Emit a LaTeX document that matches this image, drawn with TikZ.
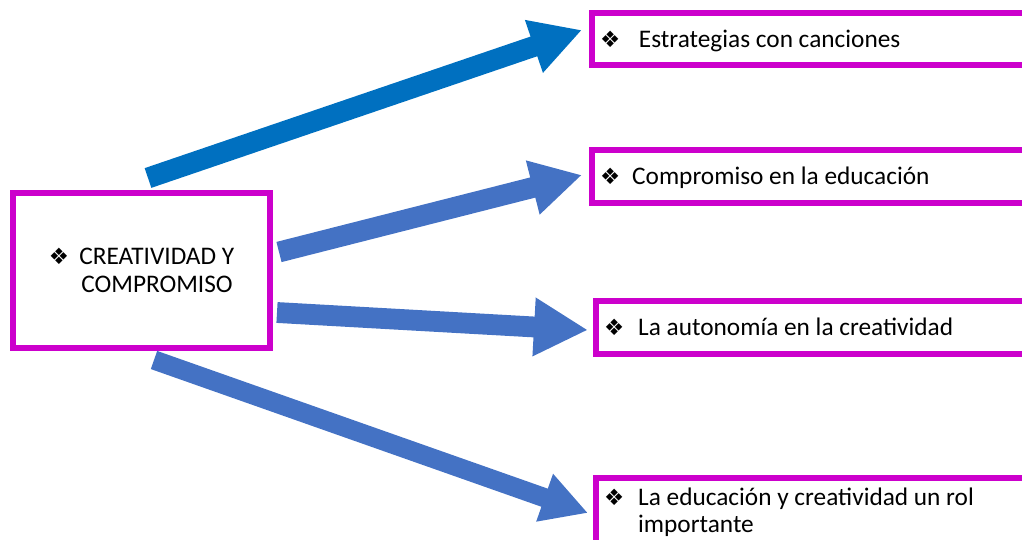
\documentclass[tikz,border=0pt]{standalone}
\usepackage{fontspec}
\setmainfont{Carlito}
\newfontfamily\dingfont{DejaVu Sans}
\usetikzlibrary{arrows.meta}
\definecolor{boxmagenta}{RGB}{204,0,204}
\definecolor{darkblue}{RGB}{0,112,192}
\definecolor{softblue}{RGB}{68,114,196}
\newcommand{\bul}{{\dingfont\fontsize{16}{16}\selectfont ❖}}
\newcommand{\lineleft}[1]{\makebox[11.5cm][l]{#1}}
\tikzset{
  frame/.style={draw=boxmagenta, line width=0.15cm, fill=white,
    inner xsep=0.2cm, font=\fontsize{18}{19}\selectfont},
  topic/.style={frame, minimum height=1.3cm, text height=12pt, text depth=0pt},
  bigarrow/.style={line width=0.52cm, -{Triangle[width=1.3cm,length=1.27cm]}},
}

\begin{document}
\begin{tikzpicture}[x=0.025cm, y=-0.025cm]
    \useasboundingbox (0, 0) rectangle (1022, 540);
    % central box
    \node[frame, align=left, minimum width=6.425cm, minimum height=3.875cm,
      font=\fontsize{18}{20}\selectfont] (main) at (141.5, 270.5)
      {\bul\hspace{0.26cm}CREATIVIDAD Y\\\phantom{\bul}\hspace{0.31cm}COMPROMISO};
    % boxes on the right
    \node[topic, anchor=west] (songs) at (589, 39) {\lineleft{\bul\hspace{0.47cm}Estrategias con canciones}};
    \node[topic, anchor=west] (duty) at (589, 176.5) {\lineleft{\bul\hspace{0.3cm}Compromiso en la educación}};
    \node[topic, anchor=west] (freedom) at (593, 327.5) {\lineleft{\bul\hspace{0.35cm}La autonomía en la creatividad}};
    \node[frame, anchor=north west, align=left, inner ysep=0.24cm, text depth=1.2cm,
      font=\fontsize{18}{19.5}\selectfont] (role) at (593, 475)
      {\lineleft{\bul\hspace{0.35cm}La educación y creatividad un rol}\\
       \lineleft{\phantom{\bul}\hspace{0.35cm}importante}};
    % block arrows
    \coordinate (from1) at (148, 178);
    \coordinate (to1) at (582, 30);
    \coordinate (from2) at (279, 252);
    \coordinate (to2) at (582, 175);
    \coordinate (from3) at (277, 312.5);
    \coordinate (to3) at (588, 330);
    \coordinate (from4) at (154, 360);
    \coordinate (to4) at (588, 513);
    \draw[bigarrow, darkblue] (from1) -- (to1);
    \draw[bigarrow, softblue] (from2) -- (to2);
    \draw[bigarrow, softblue, -{Triangle[width=1.37cm,length=1.35cm]}] (from3) -- (to3);
    \draw[bigarrow, softblue, line width=0.48cm, -{Triangle[width=1.18cm,length=1.15cm]}] (from4) -- (to4);
\end{tikzpicture}
\end{document}
